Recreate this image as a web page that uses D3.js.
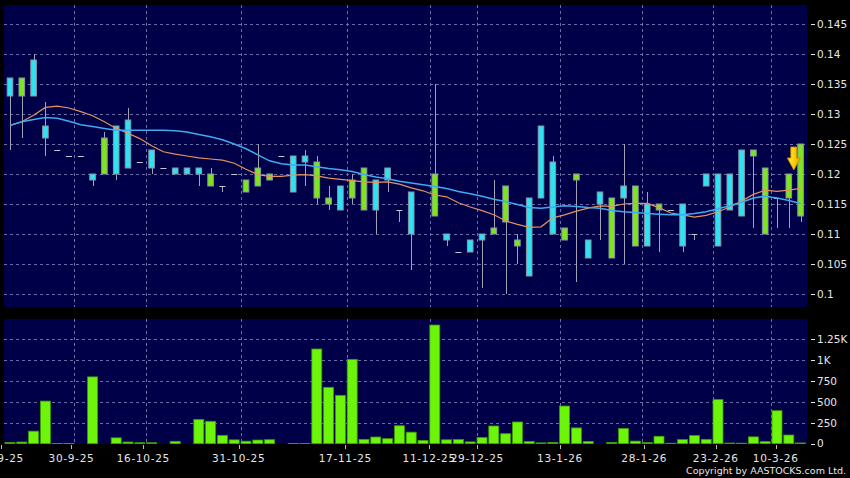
<!DOCTYPE html>
<html><head><meta charset="utf-8">
<script src="https://cdn.jsdelivr.net/npm/d3@7/dist/d3.min.js"></script>
<style>html,body{margin:0;padding:0;background:#000;}svg{display:block;}</style>
</head><body>
<script>
// ---- data ----
const openP  = [0.136,0.133,0.139,0.128,0.124,0.123,0.123,0.120,0.120,0.128,0.129,0.122,0.124,0.121,0.121,0.121,0.121,0.118,0.118,0.120,0.117,0.118,0.119,0.123,0.123,0.123,0.116,0.115,0.118,0.116,0.114,0.119,0.121,0.114,0.117,null,0.113,0.110,0.107,0.109,0.110,0.110,0.112,0.108,0.116,0.128,0.122,0.109,0.119,0.109,0.117,0.106,0.118,0.108,0.115,0.114,0.114,0.115,0.110,0.120,0.120,0.120,0.124,0.123,0.110,0.116,0.116,0.113];
const closeP = [0.133,0.136,0.133,0.126,0.124,0.123,0.123,0.119,0.126,0.120,0.121,0.122,0.121,0.121,0.120,0.120,0.120,0.120,0.118,0.120,0.119,0.121,0.120,0.123,0.117,0.122,0.122,0.116,0.114,0.119,0.121,0.114,0.119,0.114,0.110,null,0.120,0.109,0.107,0.107,0.109,0.111,0.118,0.109,0.103,0.116,0.110,0.111,0.120,0.106,0.115,0.116,0.116,0.118,0.108,0.115,0.114,0.108,0.110,0.118,0.108,0.114,0.113,0.124,0.121,0.116,0.120,0.125];
const highP  = [0.136,0.136,0.140,0.132,0.124,0.123,0.123,0.120,0.127,0.128,0.131,0.122,0.124,0.121,0.121,0.121,0.121,0.121,0.118,0.120,0.119,0.125,0.120,0.123,0.123,0.124,0.123,0.118,0.118,0.120,0.121,0.119,0.121,0.114,0.117,null,0.135,0.110,0.107,0.109,0.110,0.119,0.118,0.110,0.116,0.128,0.123,0.111,0.120,0.109,0.117,0.116,0.125,0.118,0.117,0.115,0.114,0.115,0.110,0.120,0.120,0.120,0.124,0.124,0.121,0.116,0.120,0.125];
const lowP   = [0.124,0.126,0.133,0.123,0.124,0.123,0.123,0.118,0.120,0.119,0.121,0.122,0.120,0.121,0.120,0.120,0.118,0.118,0.117,0.120,0.117,0.118,0.119,0.123,0.117,0.118,0.115,0.114,0.114,0.115,0.114,0.110,0.117,0.112,0.104,null,0.113,0.108,0.107,0.107,0.101,0.110,0.100,0.105,0.103,0.116,0.110,0.109,0.102,0.106,0.109,0.106,0.105,0.108,0.108,0.107,0.114,0.107,0.109,0.118,0.108,0.114,0.113,0.111,0.110,0.111,0.111,0.112];
const volume = [15,20,150,510,3,3,0,800,0,70,20,12,12,0,28,0,290,268,100,46,30,44,48,0,3,3,1134,675,579,1010,52,80,60,215,138,40,1421,47,50,22,74,212,120,260,26,10,16,451,189,27,0,16,182,31,14,89,6,49,98,52,528,8,6,82,25,395,104,9];
const maShort = [0.1281,0.1287,0.1298,0.1311,0.1313,0.1310,0.1304,0.1297,0.1287,0.1276,0.1268,0.1259,0.1247,0.1237,0.1233,0.1230,0.1227,0.1225,0.1223,0.1218,0.1208,0.1199,0.1196,0.1196,0.1198,0.1199,0.1197,0.1193,0.1191,0.1189,0.1187,0.1186,0.1187,0.1183,0.1177,0.1172,0.1165,0.1162,0.1152,0.1145,0.1139,0.1132,0.1122,0.1116,0.1111,0.1112,0.1127,0.1132,0.1138,0.1143,0.1147,0.1146,0.1150,0.1151,0.1151,0.1144,0.1135,0.1132,0.1128,0.1131,0.1137,0.1145,0.1155,0.1166,0.1173,0.1171,0.1173,0.1176];
const maLong  = [0.1281,0.1287,0.1291,0.1294,0.1293,0.1288,0.1282,0.1279,0.1276,0.1273,0.1273,0.1273,0.1273,0.1273,0.1272,0.1270,0.1266,0.1262,0.1257,0.1250,0.1242,0.1232,0.1222,0.1217,0.1215,0.1215,0.1212,0.1209,0.1207,0.1204,0.1199,0.1195,0.1192,0.1188,0.1185,0.1182,0.1179,0.1176,0.1171,0.1167,0.1163,0.1158,0.1154,0.1149,0.1144,0.1143,0.1145,0.1147,0.1146,0.1144,0.1143,0.1139,0.1137,0.1136,0.1134,0.1133,0.1132,0.1132,0.1134,0.1137,0.1142,0.1147,0.1153,0.1160,0.1163,0.1160,0.1156,0.1151];
const dateLabels = ["23-9-25","30-9-25","16-10-25","31-10-25","17-11-25","11-12-25","29-12-25","13-1-26","28-1-26","23-2-26","10-3-26"];
const dateTickIdx = [-0.76,5.21,11.30,19.38,28.42,35.53,39.60,46.61,53.75,59.81,64.89];
const dateGridIdx = [5.45,11.50,19.54,28.53,35.57,39.55,46.58,53.52,59.58,64.53];
const priceTicks = [0.1,0.105,0.11,0.115,0.12,0.125,0.13,0.135,0.14,0.145];
const volTicks = [0,250,500,750,1000,1250];
const volTickLabels = ["0","250","500","750","1K","1.25K"];
const arrowIdx = 66;

// ---- layout ----
const W = 850, H = 478;
const pL = 4, pR = 807, pT = 5, pB = 307, vT = 319, vB = 444;
const FONT = "DejaVu Sans";
const col = {bg:"#000", panel:"#000048", grid:"#6c6ca8", up:"#7ee41e", down:"#2fe2f2",
  border:"#8796a6", wick:"#a2a2b4", dash:"#c8c8d2", vol:"#6cf50a", volStroke:"#3c9c00",
  maS:"#e2925e", maL:"#3eaaf0", text:"#e6e6e6"};

const x = d3.scaleLinear().domain([0, 67]).range([10, 800.6]);
const y = d3.scaleLinear().domain([0.1, 0.145]).range([294, 24]);
const yv = d3.scaleLinear().domain([0, 1250]).range([443.7, 339.3]);

const svg = d3.select("body").append("svg").attr("width", W).attr("height", H);
svg.append("rect").attr("width", W).attr("height", H).attr("fill", col.bg);

const defs = svg.append("defs");
defs.append("clipPath").attr("id","cp").append("rect").attr("x",pL).attr("y",pT).attr("width",pR-pL).attr("height",pB-pT);
defs.append("clipPath").attr("id","cv").append("rect").attr("x",pL).attr("y",vT).attr("width",pR-pL).attr("height",vB-vT);
const grad = defs.append("linearGradient").attr("id","ag").attr("x1",0).attr("x2",1).attr("y1",0).attr("y2",0);
grad.append("stop").attr("offset","0").attr("stop-color","#ffe860");
grad.append("stop").attr("offset","0.5").attr("stop-color","#ffd000");
grad.append("stop").attr("offset","1").attr("stop-color","#e8a000");

svg.append("rect").attr("x",pL).attr("y",pT).attr("width",pR-pL).attr("height",pB-pT).attr("fill",col.panel);
svg.append("rect").attr("x",pL).attr("y",vT).attr("width",pR-pL).attr("height",vB-vT).attr("fill",col.panel);

const data = openP.map((o,i)=>({i, o, c:closeP[i], h:highP[i], l:lowP[i], v:volume[i]}));

// ---- grids ----
const gP = svg.append("g").attr("clip-path","url(#cp)");
gP.selectAll(".hg").data(priceTicks).join("line")
  .attr("x1",pL).attr("x2",pR).attr("y1",d=>Math.round(y(d))+0.5).attr("y2",d=>Math.round(y(d))+0.5)
  .attr("stroke",col.grid).attr("stroke-dasharray","3,3").attr("stroke-width",1);
gP.selectAll(".vg").data(dateGridIdx).join("line")
  .attr("y1",pT).attr("y2",pB).attr("x1",d=>Math.round(x(d))+0.5).attr("x2",d=>Math.round(x(d))+0.5)
  .attr("stroke",col.grid).attr("stroke-dasharray","3,3").attr("stroke-width",1);

const gV = svg.append("g").attr("clip-path","url(#cv)");
gV.selectAll(".hg").data(volTicks.slice(1)).join("line")
  .attr("x1",pL).attr("x2",pR).attr("y1",d=>Math.round(yv(d))+0.5).attr("y2",d=>Math.round(yv(d))+0.5)
  .attr("stroke",col.grid).attr("stroke-dasharray","3,3").attr("stroke-width",1);
gV.selectAll(".vg").data(dateGridIdx).join("line")
  .attr("y1",vT).attr("y2",vB).attr("x1",d=>Math.round(x(d))+0.5).attr("x2",d=>Math.round(x(d))+0.5)
  .attr("stroke",col.grid).attr("stroke-dasharray","3,3").attr("stroke-width",1);

// ---- candles ----
const cd = data.filter(d=>d.o!==null);
gP.selectAll(".wick").data(cd.filter(d=>d.h>d.l)).join("line")
  .attr("x1",d=>Math.round(x(d.i))+0.5).attr("x2",d=>Math.round(x(d.i))+0.5)
  .attr("y1",d=>y(d.h)).attr("y2",d=>y(d.l)).attr("stroke",col.wick).attr("stroke-width",1);
gP.selectAll(".dash").data(cd.filter(d=>d.o===d.c)).join("line")
  .attr("x1",d=>x(d.i)-3).attr("x2",d=>x(d.i)+3)
  .attr("y1",d=>Math.round(y(d.o))+0.5).attr("y2",d=>Math.round(y(d.o))+0.5)
  .attr("stroke",col.dash).attr("stroke-width",1);
gP.selectAll(".body").data(cd.filter(d=>d.o!==d.c)).join("rect")
  .attr("x",d=>x(d.i)-2.8).attr("width",5.6)
  .attr("y",d=>y(Math.max(d.o,d.c))).attr("height",d=>y(Math.min(d.o,d.c))-y(Math.max(d.o,d.c)))
  .attr("fill",d=>d.c>d.o?col.up:col.down).attr("stroke",col.border).attr("stroke-width",1);

// ---- moving averages ----
const line = d3.line().x((d,i)=>x(i)).y(d=>y(d)).curve(d3.curveLinear);
gP.append("path").attr("d",line(maShort)).attr("fill","none").attr("stroke",col.maS).attr("stroke-width",1.2);
gP.append("path").attr("d",line(maLong)).attr("fill","none").attr("stroke",col.maL).attr("stroke-width",1.5);

// ---- arrow marker ----
const ax = x(arrowIdx)+5, ay = y(closeP[arrowIdx]) - 4;
svg.append("path")
  .attr("d",`M${ax-3},${ay-23} L${ax+3},${ay-23} L${ax+3},${ay-12} L${ax+6.5},${ay-12} L${ax},${ay} L${ax-6.5},${ay-12} L${ax-3},${ay-12} Z`)
  .attr("fill","url(#ag)").attr("stroke","#c88a00").attr("stroke-width",0.8);

// ---- volume ----
gV.selectAll(".vb").data(data.filter(d=>d.v>0)).join("rect")
  .attr("x",d=>x(d.i)-5).attr("width",10)
  .attr("y",d=>yv(d.v)).attr("height",d=>yv(0)-yv(d.v))
  .attr("fill",col.vol).attr("stroke",col.volStroke).attr("stroke-width",0.8);

// ---- right axes ----
const ra = svg.append("g").attr("font-family",FONT).attr("font-size","10.5px").attr("fill",col.text);
ra.selectAll(".pt").data(priceTicks).join("line")
  .attr("x1",811).attr("x2",815).attr("y1",d=>Math.round(y(d))+0.5).attr("y2",d=>Math.round(y(d))+0.5)
  .attr("stroke",col.text).attr("stroke-width",1);
ra.selectAll(".ptl").data(priceTicks).join("text")
  .attr("x",817).attr("y",d=>y(d)).attr("dy","0.36em").text(d=>d3.format("")(+d.toFixed(3)));
ra.selectAll(".vt").data(volTicks).join("line")
  .attr("x1",811).attr("x2",815).attr("y1",d=>Math.round(yv(d))+0.5).attr("y2",d=>Math.round(yv(d))+0.5)
  .attr("stroke",col.text).attr("stroke-width",1);
ra.selectAll(".vtl").data(volTicks).join("text")
  .attr("x",817).attr("y",d=>yv(d)).attr("dy","0.36em").text((d,i)=>volTickLabels[i]);

// ---- date axis ----
const da = svg.append("g").attr("font-family",FONT).attr("font-size","10.5px").attr("fill",col.text);
da.selectAll("line").data(dateTickIdx).join("line")
  .attr("x1",d=>Math.round(x(d))+0.5).attr("x2",d=>Math.round(x(d))+0.5).attr("y1",vB+1).attr("y2",vB+5)
  .attr("stroke","#bbbbbb").attr("stroke-width",1);
da.selectAll("text").data(dateTickIdx).join("text")
  .attr("x",d=>x(d)).attr("y",462).attr("text-anchor","middle").attr("letter-spacing","0.7px")
  .text((d,i)=>dateLabels[i]);

svg.append("text").attr("x",846).attr("y",474).attr("text-anchor","end")
  .attr("font-family",FONT).attr("font-size","9.5px").attr("fill",col.text)
  .text("Copyright by AASTOCKS.com Ltd.");
</script>
</body></html>
